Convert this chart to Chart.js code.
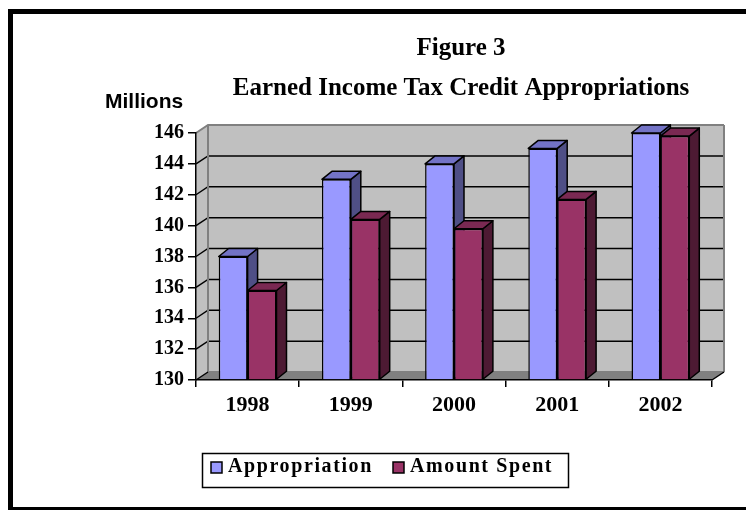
<!DOCTYPE html>
<html><head><meta charset="utf-8">
<script src="https://cdn.jsdelivr.net/npm/chart.js@4.4.0/dist/chart.umd.min.js"></script>
<style>html,body{margin:0;padding:0;background:#fff;overflow:hidden}canvas{display:block}</style>
</head><body>
<canvas id="c" width="746" height="510" style="width:746px;height:510px"></canvas>
<script>
// ---- data ----
const years = ['1998', '1999', '2000', '2001', '2002'];
const appropriation = [138, 143, 144, 145, 146];
const amountSpent = [135.8, 140.4, 139.8, 141.7, 145.8];
const seriesNames = ['Appropriation', 'Amount Spent'];
const yMin = 130, yMax = 146, yStep = 2;
const titleLines = ['Figure 3', 'Earned Income Tax Credit Appropriations'];
const unitLabel = 'Millions';

// ---- styles ----
const SERIF = '"Liberation Serif", "Times New Roman", serif';
const SANS = '"Liberation Sans", Arial, sans-serif';
const colors = [
  {front: '#9999FF', top: '#7373C6', side: '#4F4F86'},
  {front: '#993366', top: '#7A2952', side: '#4D1A33'}
];
const BAR_DX = 10, BAR_DY = -8, WALL_DX = 12, WALL_DY = -8;

function poly(ctx, pts) {
  ctx.beginPath();
  ctx.moveTo(pts[0][0], pts[0][1]);
  for (let i = 1; i < pts.length; i++) ctx.lineTo(pts[i][0], pts[i][1]);
  ctx.closePath();
}

const threeD = {
  id: 'threeD',
  beforeDraw(chart) {
    const ctx = chart.ctx, a = chart.chartArea, ys = chart.scales.y;
    ctx.save();
    // outer frame
    ctx.fillStyle = '#000';
    ctx.fillRect(8, 9, 760, 5);
    ctx.fillRect(8, 9, 5, 520);
    ctx.fillRect(8, 507, 760, 5);
    // walls
    ctx.fillStyle = '#C0C0C0';
    poly(ctx, [[a.left, a.top], [a.left + WALL_DX, a.top + WALL_DY], [a.left + WALL_DX, a.bottom + WALL_DY], [a.left, a.bottom]]);
    ctx.fill();
    ctx.fillRect(a.left + WALL_DX, a.top + WALL_DY, a.right - a.left, a.bottom - a.top);
    ctx.fillStyle = '#808080';
    poly(ctx, [[a.left, a.bottom], [a.right, a.bottom], [a.right + WALL_DX, a.bottom + WALL_DY], [a.left + WALL_DX, a.bottom + WALL_DY]]);
    ctx.fill();
    // gridlines
    ys.ticks.forEach(t => {
      if (t.value === yMin) return;
      const py = ys.getPixelForValue(t.value);
      ctx.beginPath();
      ctx.moveTo(a.left, py);
      ctx.lineTo(a.left + WALL_DX, py + WALL_DY);
      ctx.lineTo(a.right + WALL_DX, py + WALL_DY);
      ctx.strokeStyle = t.value === yMax ? '#808080' : '#000';
      ctx.lineWidth = t.value === yMax ? 2 : 1.5;
      ctx.stroke();
    });
    // wall edges
    ctx.strokeStyle = '#808080';
    ctx.lineWidth = 2;
    ctx.beginPath();
    ctx.moveTo(a.right + WALL_DX, a.top + WALL_DY);
    ctx.lineTo(a.right + WALL_DX, a.bottom + WALL_DY);
    ctx.moveTo(a.left + WALL_DX, a.top + WALL_DY);
    ctx.lineTo(a.left + WALL_DX, a.bottom + WALL_DY);
    ctx.lineTo(a.right + WALL_DX, a.bottom + WALL_DY);
    ctx.stroke();
    ctx.strokeStyle = '#000';
    ctx.lineWidth = 1.5;
    ctx.beginPath();
    ctx.moveTo(a.right, a.bottom);
    ctx.lineTo(a.right + WALL_DX, a.bottom + WALL_DY);
    ctx.moveTo(a.left, a.bottom);
    ctx.lineTo(a.left + WALL_DX, a.bottom + WALL_DY);
    ctx.stroke();
    ctx.restore();
  },
  beforeDatasetsDraw(chart) {
    const ctx = chart.ctx, a = chart.chartArea;
    ctx.save();
    ctx.strokeStyle = '#000';
    ctx.lineWidth = 1.5;
    ctx.lineJoin = 'round';
    chart.data.datasets.forEach((ds, i) => {
      const meta = chart.getDatasetMeta(i);
      const c = colors[i];
      meta.data.forEach(bar => {
        const p = bar.getProps(['x', 'y', 'base', 'width'], true);
        const base = Math.min(p.base, a.bottom);
        const l = p.x - p.width / 2, r = p.x + p.width / 2;
        poly(ctx, [[r, p.y], [r + BAR_DX, p.y + BAR_DY], [r + BAR_DX, base + BAR_DY], [r, base]]);
        ctx.fillStyle = c.side; ctx.fill(); ctx.stroke();
        poly(ctx, [[l, p.y], [l + BAR_DX, p.y + BAR_DY], [r + BAR_DX, p.y + BAR_DY], [r, p.y]]);
        ctx.fillStyle = c.top; ctx.fill(); ctx.stroke();
      });
    });
    ctx.restore();
  },
  afterDraw(chart) {
    const ctx = chart.ctx;
    ctx.save();
    ctx.fillStyle = '#000';
    // title
    ctx.textAlign = 'center';
    ctx.textBaseline = 'alphabetic';
    ctx.font = 'bold 25px ' + SERIF;
    ctx.fillText(titleLines[0], 461, 55);
    ctx.fillText(titleLines[1], 461, 95);
    // unit label
    ctx.textAlign = 'left';
    ctx.font = 'bold 21px ' + SANS;
    ctx.fillText(unitLabel, 105, 108);
    // legend
    ctx.lineWidth = 1.5;
    ctx.strokeStyle = '#000';
    ctx.strokeRect(202.5, 453.5, 366, 34);
    ctx.font = 'bold 20px ' + SERIF;
    ctx.letterSpacing = '1.6px';
    const itemX = [211, 393];
    chart.data.datasets.forEach((ds, i) => {
      ctx.fillStyle = ds.backgroundColor;
      ctx.fillRect(itemX[i], 462, 11, 11);
      ctx.strokeRect(itemX[i], 462, 11, 11);
      ctx.fillStyle = '#000';
      ctx.fillText(ds.label, itemX[i] + 17, 472);
    });
    ctx.restore();
  }
};

new Chart(document.getElementById('c'), {
  type: 'bar',
  data: {
    labels: years,
    datasets: [
      {label: seriesNames[0], data: appropriation, base: yMin, clip: false, backgroundColor: colors[0].front, borderColor: '#000', borderWidth: 1.5, categoryPercentage: 0.56, barPercentage: 1.0},
      {label: seriesNames[1], data: amountSpent, base: yMin, clip: false, backgroundColor: colors[1].front, borderColor: '#000', borderWidth: 1.5, categoryPercentage: 0.56, barPercentage: 1.0}
    ]
  },
  options: {
    responsive: false,
    animation: false,
    devicePixelRatio: 1,
    layout: {padding: {left: 0, top: 133, right: 34, bottom: 80}},
    plugins: {legend: {display: false}, title: {display: false}, tooltip: {enabled: false}},
    scales: {
      x: {
        afterFit(s) { s.height = 50; },
        grid: {drawOnChartArea: false, tickLength: 7, color: '#000', lineWidth: 1.5},
        border: {color: '#000', width: 1.5},
        ticks: {color: '#000', font: {family: SERIF, size: 22, weight: 'bold'}, padding: 5}
      },
      y: {
        min: yMin, max: yMax,
        afterFit(s) { s.width = 196; },
        grid: {drawOnChartArea: false, tickLength: 8, color: '#000', lineWidth: 1.5},
        border: {color: '#000', width: 1.5},
        ticks: {stepSize: yStep, color: '#000', font: {family: SERIF, size: 20, weight: 'bold'}, padding: 4}
      }
    }
  },
  plugins: [threeD]
});
</script>
</body></html>
